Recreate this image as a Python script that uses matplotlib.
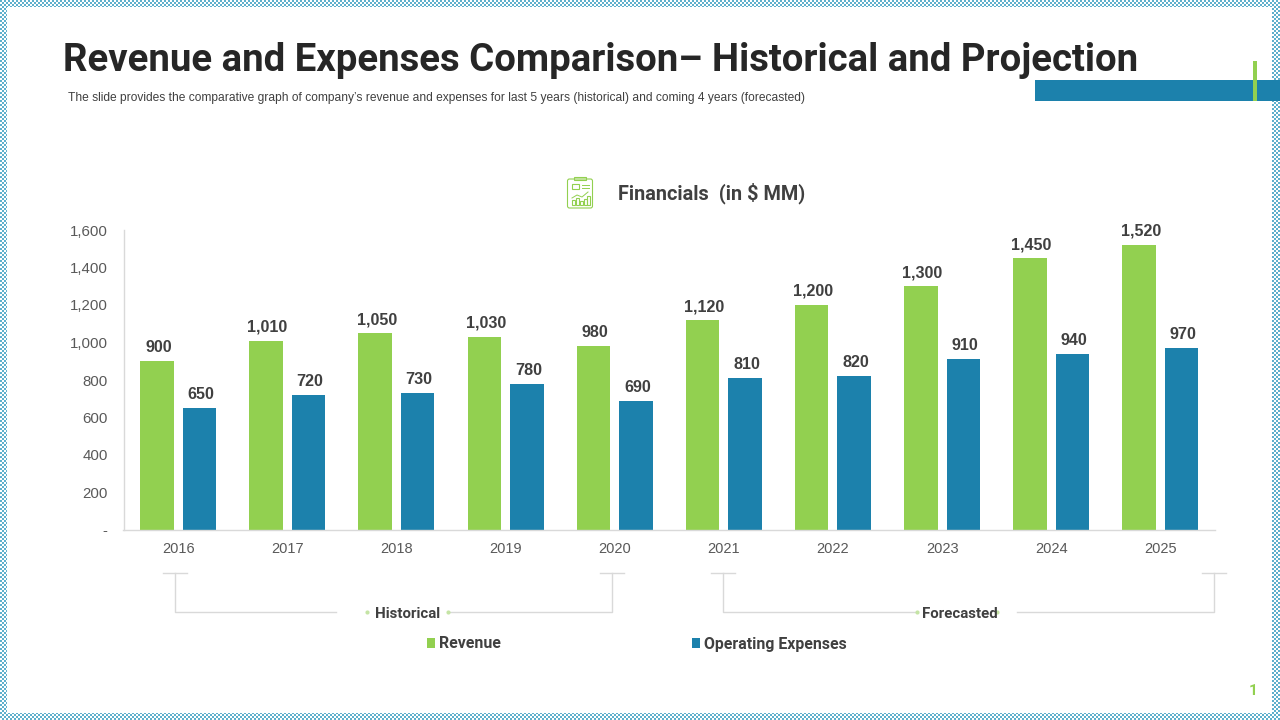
import numpy as np
import matplotlib
matplotlib.use('Agg')
import matplotlib.pyplot as plt
from matplotlib.patches import Rectangle, FancyBboxPatch

years = ['2016', '2017', '2018', '2019', '2020', '2021', '2022', '2023', '2024', '2025']
revenue = [900, 1010, 1050, 1030, 980, 1120, 1200, 1300, 1450, 1520]
expenses = [650, 720, 730, 780, 690, 810, 820, 910, 940, 970]
y_ticks = [0, 200, 400, 600, 800, 1000, 1200, 1400, 1600]
y_labels = ['-', '200', '400', '600', '800', '1,000', '1,200', '1,400', '1,600']

GREEN = '#92D050'
BLUE = '#1C81AC'
DARK = '#262626'
GREY = '#595959'
LINE = '#D9D9D9'
W, H = 1280, 720

fig = plt.figure(figsize=(12.8, 7.2), dpi=100)

# slide background, everything on it placed in pixels
bg = fig.add_axes([0, 0, 1, 1])
bg.axis('off')
yy, xx = np.mgrid[0:H, 0:W]
checker = np.where((xx // 2 + yy // 2) % 2 == 0, 0.0, 1.0)
bg.imshow(checker, cmap=matplotlib.colors.LinearSegmentedColormap.from_list('b', ['#5FB0CC', '#FFFFFF']),
          extent=(0, W, H, 0), interpolation='nearest', aspect='auto', zorder=0)
bg.add_patch(Rectangle((7, 7), 1265, 706, fc='white', ec='none', zorder=1))
bg.set_xlim(0, W)
bg.set_ylim(H, 0)

bg.text(63, 60.5, 'Revenue and Expenses Comparison\u2013 Historical and Projection', fontsize=27.65,
        family='Roboto', weight='bold', color=DARK, va='center', ha='left', zorder=3)
bg.text(68, 97.5, "The slide provides the comparative graph of company\u2019s revenue and expenses for last 5 years (historical) and coming 4 years (forecasted)",
        fontsize=8.68, family='Liberation Sans', color='#404040', va='center', ha='left', zorder=3)
bg.add_patch(Rectangle((1035, 80), 245, 21, fc=BLUE, ec='none', zorder=2))
bg.add_patch(Rectangle((1253, 61), 4, 40, fc=GREEN, ec='none', zorder=3))
bg.text(1253, 691, '1', fontsize=11, family='Roboto', weight='bold', color=GREEN, va='center', ha='center', zorder=3)

# clipboard icon
icon = dict(fc='none', ec=GREEN, lw=0.8, zorder=3)
bg.add_patch(FancyBboxPatch((567.5, 179), 25, 29, boxstyle='round,pad=0,rounding_size=2', **icon))
bg.add_patch(Rectangle((574, 177), 12, 3, **icon))
bg.add_patch(Rectangle((572, 184), 7, 5, **icon))
bg.plot([582, 589], [185, 185], color=GREEN, lw=0.7, zorder=3)
bg.plot([582, 589], [188, 188], color=GREEN, lw=0.7, zorder=3)
bg.plot([572, 577, 582, 588], [198, 195, 197, 192], color=GREEN, lw=0.7, zorder=3)
for bx, bh in zip([572, 576, 580, 584, 587], [5, 7, 4, 6, 9]):
    bg.add_patch(Rectangle((bx, 205 - bh), 2.5, bh, **icon))
bg.text(712, 193, 'Financials  (in $ MM)', fontsize=14.3, family='Roboto', weight='bold', color='#404040',
        va='center', ha='center', zorder=3)

# brackets under the axis
def bracket(x0, x1, gap0, gap1):
    bg.plot([x0 - 12, x0 + 12], [573, 573], color=LINE, lw=1, zorder=2)
    bg.plot([x1 - 12, x1 + 12], [573, 573], color=LINE, lw=1, zorder=2)
    bg.plot([x0, x0, gap0], [573, 612, 612], color=LINE, lw=1, zorder=2)
    bg.plot([gap1, x1, x1], [612, 612, 573], color=LINE, lw=1, zorder=2)

bracket(175, 612, 336, 450)
bracket(723, 1214, 917, 1017)
for px in [367, 448, 917, 997]:
    bg.plot(px, 612, 'o', ms=3, color='#C5E4A5', mec='none', zorder=3)
for px, label in [(407.5, 'Historical'), (959.5, 'Forecasted')]:
    bg.text(px, 617.5, label, fontsize=10.8, family='Roboto', weight='bold', color='#404040',
            va='baseline', ha='center', zorder=4)

# legend
for px, color, label in [(427, GREEN, 'Revenue'), (692, BLUE, 'Operating Expenses')]:
    bg.add_patch(Rectangle((px, 638), 8, 10, fc=color, ec='none', zorder=3))
    bg.text(px + 12.5, 648.5, label, fontsize=11.4, family='Roboto', weight='bold', color='#404040',
            va='baseline', ha='left', zorder=3)

# chart
ax = fig.add_axes([123.5 / W, 1 - 530 / H, 1091.5 / W, 300 / H])
ax.patch.set_alpha(0)
x = np.arange(len(years))
width = 33.5 / 109.15
offset = 21.25 / 109.15
ax.bar(x - offset, revenue, width, color=GREEN)
ax.bar(x + offset, expenses, width, color=BLUE)
for i in range(len(years)):
    ax.annotate(f'{revenue[i]:,}', (x[i] - offset, revenue[i]), xytext=(1.5, 6), textcoords='offset pixels',
                ha='center', va='bottom', fontsize=11.6, family='Liberation Sans', weight='bold', color='#404040')
    ax.annotate(f'{expenses[i]:,}', (x[i] + offset, expenses[i]), xytext=(1.5, 6), textcoords='offset pixels',
                ha='center', va='bottom', fontsize=11.6, family='Liberation Sans', weight='bold', color='#404040')
ax.set_xlim(-0.5, 9.5)
ax.set_ylim(0, 1600)
ax.set_xticks(x)
ax.set_xticklabels(years, fontsize=10.5, family='Liberation Sans', color=GREY)
ax.set_yticks(y_ticks)
ax.set_yticklabels(y_labels, fontsize=10.8, family='Liberation Sans', color=GREY)
ax.tick_params(axis='both', length=0)
ax.tick_params(axis='x', pad=8.5)
ax.tick_params(axis='y', pad=11.5)
for side in ['top', 'right']:
    ax.spines[side].set_visible(False)
for side in ['left', 'bottom']:
    ax.spines[side].set_color(LINE)
    ax.spines[side].set_linewidth(1)

fig.savefig('out.png', dpi=100)
